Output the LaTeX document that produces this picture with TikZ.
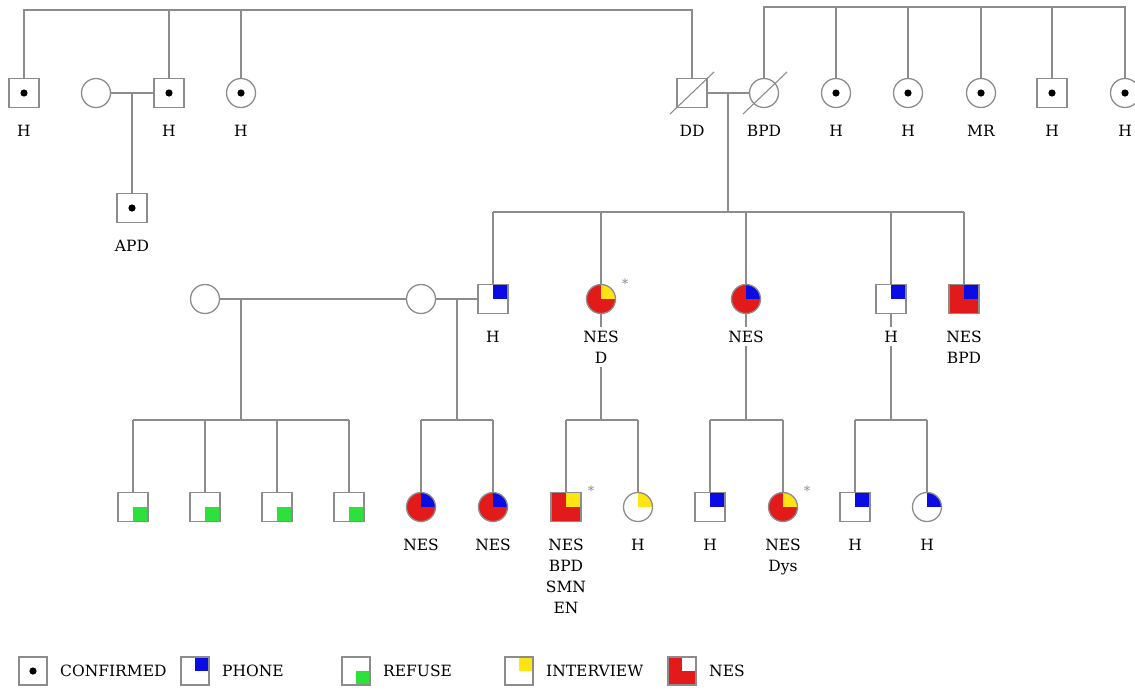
\documentclass[tikz,border=0pt]{standalone}
\usepackage{fontspec}
\setmainfont{DejaVu Serif}
\usepackage{tikz}
\usetikzlibrary{positioning,calc}
\definecolor{LineGray}{HTML}{8C8C8C}
\definecolor{NesRed}{HTML}{E21A1A}
\definecolor{PhoneBlue}{HTML}{0B0BE4}
\definecolor{RefuseGreen}{HTML}{2EE03C}
\definecolor{InterviewYellow}{HTML}{FFE414}

\begin{document}
\begin{tikzpicture}[x=1pt,y=-1pt,
  font=\fontsize{15.5}{21}\selectfont,
  person/.style={draw=LineGray,line width=1.3pt,fill=white,inner sep=0pt,outer sep=0pt},
  male/.style={person,rectangle,minimum width=30pt,minimum height=29pt},
  female/.style={person,circle,minimum size=29pt},
  key/.style={person,rectangle,line width=1.2pt,minimum width=28pt,minimum height=28pt},
  confirmed/.style={path picture={\fill[black] (path picture bounding box.center) circle (3.6pt);}},
  phone/.style={path picture={\fill[PhoneBlue] (path picture bounding box.center) rectangle (path picture bounding box.north east);}},
  interview/.style={path picture={\fill[InterviewYellow] (path picture bounding box.center) rectangle (path picture bounding box.north east);}},
  refuse/.style={path picture={\fill[RefuseGreen] (path picture bounding box.center) rectangle (path picture bounding box.south east);}},
  hole/.style={path picture={\fill[white] (path picture bounding box.center) rectangle (path picture bounding box.north east);}},
  nes/.style={fill=NesRed},
  link/.style={draw=LineGray,line width=1.1pt},
  slash/.style={draw=LineGray,line width=1.1pt},
  lbl/.style={fill=white,inner xsep=2pt,inner ysep=4pt,align=center,below=13pt of #1},
  keytext/.style={inner sep=0pt,right=13pt of #1},
  aster/.style={text=LineGray,font=\fontsize{13}{13}\selectfont}
]
\clip (0,0) rectangle (1135,691);
\fill[white] (0,0) rectangle (1135,691);

% first generation
\node[male,confirmed] (g1a) at (24,93) {};
\node[female] (g1b) at (96,93) {};
\node[male,confirmed] (g1c) at (169,93) {};
\node[female,confirmed] (g1d) at (241,93) {};
\node[male] (dd) at (692,93) {};
\node[female] (bpd) at (764,93) {};
\node[female,confirmed] (g1e) at (836,93) {};
\node[female,confirmed] (g1f) at (908,93) {};
\node[female,confirmed] (g1g) at (981,93) {};
\node[male,confirmed] (g1h) at (1052,93) {};
\node[female,confirmed] (g1i) at (1125,93) {};
\node[male,confirmed] (apd) at (132,208) {};

% second generation
\node[female] (w1) at (205,299) {};
\node[female] (w2) at (421,299) {};
\node[male,phone] (h2a) at (493,299) {};
\node[female,nes,interview] (nesd) at (601,299) {};
\node[female,nes,phone] (nes2) at (746,299) {};
\node[male,phone] (h2b) at (891,299) {};
\node[male,nes,phone] (nesbpd) at (964,299) {};

% third generation
\node[male,refuse] (a1) at (133,507) {};
\node[male,refuse] (a2) at (205,507) {};
\node[male,refuse] (a3) at (277,507) {};
\node[male,refuse] (a4) at (349,507) {};
\node[female,nes,phone] (b1) at (421,507) {};
\node[female,nes,phone] (b2) at (493,507) {};
\node[male,nes,interview] (c1) at (566,507) {};
\node[female,interview] (c2) at (638,507) {};
\node[male,phone] (d1) at (710,507) {};
\node[female,nes,interview] (d2) at (783,507) {};
\node[male,phone] (e1) at (855,507) {};
\node[female,phone] (e2) at (927,507) {};

\coordinate (topL) at (0,10);
\coordinate (topR) at (0,7);
\coordinate (sib2) at (728,212);
\coordinate (sibA) at (241,420);
\coordinate (sibB) at (457,420);
\coordinate (sibC) at (601,420);
\coordinate (sibD) at (746,420);
\coordinate (sibE) at (891,420);

% lines of descent
\draw[link] (g1a) -- (g1a |- topL) -| (dd);
\draw[link] (g1c) -- (g1c |- topL);
\draw[link] (g1d) -- (g1d |- topL);
\draw[link] (bpd) -- (bpd |- topR) -| (g1i);
\foreach \k in {g1e,g1f,g1g,g1h}
  \draw[link] (\k) -- (\k |- topR);
\draw[link] (g1b) -- (g1c);
\draw[link] (apd) -- (apd |- g1b);
\draw[link] (dd) -- (bpd);
\draw[link] ($(dd)!0.5!(bpd)$) -- (sib2);
\draw[link] (h2a |- sib2) -- (nesbpd |- sib2);
\foreach \k in {h2a,nesd,nes2,h2b,nesbpd}
  \draw[link] (\k) -- (\k |- sib2);
\draw[link] (w1) -- (w2);
\draw[link] (w2) -- (h2a);
\draw[link] (sibA |- w1) -- (sibA);
\draw[link] (sibB |- w2) -- (sibB);
\draw[link] (nesd) -- (sibC);
\draw[link] (nes2) -- (sibD);
\draw[link] (h2b) -- (sibE);
\draw[link] (a1 |- sibA) -- (a4 |- sibA);
\draw[link] (b1 |- sibB) -- (b2 |- sibB);
\draw[link] (c1 |- sibC) -- (c2 |- sibC);
\draw[link] (d1 |- sibD) -- (d2 |- sibD);
\draw[link] (e1 |- sibE) -- (e2 |- sibE);
\foreach \k/\s in {a1/sibA,a2/sibA,a3/sibA,a4/sibA,b1/sibB,b2/sibB,c1/sibC,c2/sibC,d1/sibD,d2/sibD,e1/sibE,e2/sibE}
  \draw[link] (\k) -- (\k |- \s);

% deceased
\draw[slash] ($(dd.center)+(-22,21)$) -- ($(dd.center)+(22,-21)$);
\draw[slash] ($(bpd.center)+(-21,21)$) -- ($(bpd.center)+(23,-21)$);

% labels
\node[lbl=g1a] (t1a) {H};
\node[lbl=g1c] (t1c) {H};
\node[lbl=g1d] (t1d) {H};
\node[lbl=dd] (tdd) {DD};
\node[lbl=bpd] (tbpd) {BPD};
\node[lbl=g1e] (t1e) {H};
\node[lbl=g1f] (t1f) {H};
\node[lbl=g1g] (t1g) {MR};
\node[lbl=g1h] (t1h) {H};
\node[lbl=g1i] (t1i) {H};
\node[lbl=apd] (tapd) {APD};
\node[lbl=h2a] (t2a) {H};
\node[lbl=nesd] (tnesd) {NES\\D};
\node[lbl=nes2] (tnes2) {NES};
\node[lbl=h2b] (t2b) {H};
\node[lbl=nesbpd] (tnesbpd) {NES\\BPD};
\node[lbl=b1] (tb1) {NES};
\node[lbl=b2] (tb2) {NES};
\node[lbl=c1] (tc1) {NES\\BPD\\SMN\\EN};
\node[lbl=c2] (tc2) {H};
\node[lbl=d1] (td1) {H};
\node[lbl=d2] (td2) {NES\\Dys};
\node[lbl=e1] (te1) {H};
\node[lbl=e2] (te2) {H};

\node[aster] (ast1) at ($(nesd.center)+(24,-15)$) {*};
\node[aster] (ast2) at ($(c1.center)+(25,-16)$) {*};
\node[aster] (ast3) at ($(d2.center)+(24,-16)$) {*};

% legend
\node[key,confirmed] (lg1) at (33,671) {};
\node[key,phone] (lg2) at (195,671) {};
\node[key,refuse] (lg3) at (356,671) {};
\node[key,interview] (lg4) at (519,671) {};
\node[key,nes,hole] (lg5) at (682,671) {};
\node[keytext=lg1] (k1) {CONFIRMED};
\node[keytext=lg2] (k2) {PHONE};
\node[keytext=lg3] (k3) {REFUSE};
\node[keytext=lg4] (k4) {INTERVIEW};
\node[keytext=lg5] (k5) {NES};
\end{tikzpicture}
\end{document}
